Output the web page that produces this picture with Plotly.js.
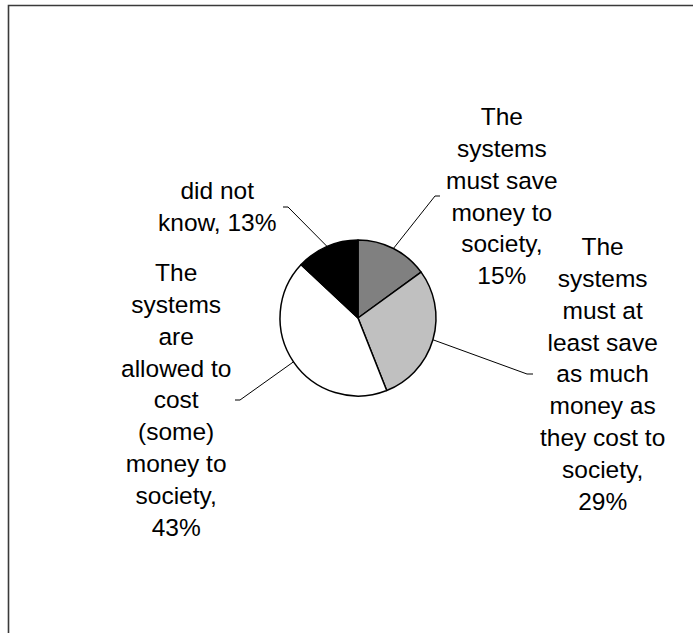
<!DOCTYPE html>
<html>
<head>
<meta charset="utf-8">
<script src="https://cdn.plot.ly/plotly-3.0.1.min.js"></script>
<style>html,body{margin:0;padding:0;background:#fff;}#chart{width:693px;height:633px;}</style>
</head>
<body>
<div id="chart"></div>
<script>
// Data
var categories = [
  "The systems must save money to society",
  "The systems must at least save as much money as they cost to society",
  "The systems are allowed to cost (some) money to society",
  "did not know"
];
var values = [15, 29, 43, 13];
var labelTexts = [
  "The<br>systems<br>must save<br>money to<br>society,<br>15%",
  "The<br>systems<br>must at<br>least save<br>as much<br>money as<br>they cost to<br>society,<br>29%",
  "The<br>systems<br>are<br>allowed to<br>cost<br>(some)<br>money to<br>society,<br>43%",
  "did not<br>know, 13%"
];
var colors = ["#808080", "#c0c0c0", "#ffffff", "#000000"];

// Layout (pixels)
var W = 693, H = 633;
var cx = 358, cy = 318, R = 78;
var labelPos = [[502, 196], [602, 374], [176, 400], [217, 207]];
var elbows = [[[435,196],[440,196]], [[527,374],[533,374]], [[240,400],[235,400]], [[288,207],[283,207]]];

function px(x){ return x / W; }
function py(y){ return 1 - y / H; }

var total = values.reduce(function(a,b){return a+b;}, 0);
var shapes = [];
// frame (left and top edges; the rest lies outside the picture)
shapes.push({type:'path', xref:'paper', yref:'paper',
  path:'M' + px(8.5) + ',' + py(640) + ' L' + px(8.5) + ',' + py(5.5) + ' L' + px(700) + ',' + py(5.5),
  line:{color:'#3a3a3a', width:1.6}, layer:'below'});
var annotations = [];
var cum = 0;
for (var i = 0; i < values.length; i++) {
  var mid = (cum + values[i] / 2) / total * 2 * Math.PI;
  cum += values[i];
  var ex = cx + R * Math.sin(mid), ey = cy - R * Math.cos(mid);
  var p = elbows[i];
  shapes.push({type:'path', xref:'paper', yref:'paper',
    path: 'M' + px(ex) + ',' + py(ey) + ' L' + px(p[0][0]) + ',' + py(p[0][1]) + ' L' + px(p[1][0]) + ',' + py(p[1][1]),
    line:{color:'#000', width:1}});
  annotations.push({xref:'paper', yref:'paper', x:px(labelPos[i][0]), y:py(labelPos[i][1]),
    xanchor:'center', yanchor:'middle', align:'center', showarrow:false, text:labelTexts[i],
    font:{family:'"Liberation Sans", Arial, sans-serif', size:24.5, color:'#000'}});
}

var trace = {
  type:'pie', labels:categories, values:values, sort:false, direction:'clockwise', rotation:0,
  marker:{colors:colors, line:{color:'#000', width:1.5}},
  textinfo:'none', hoverinfo:'none', showlegend:false,
  domain:{x:[px(cx - R), px(cx + R)], y:[py(cy + R), py(cy - R)]}
};

var layout = {
  width:W, height:H, margin:{l:0, r:0, t:0, b:0},
  paper_bgcolor:'#fff', plot_bgcolor:'#fff',
  showlegend:false, shapes:shapes, annotations:annotations
};
Plotly.newPlot('chart', [trace], layout, {displayModeBar:false, staticPlot:true});
</script>
</body>
</html>
